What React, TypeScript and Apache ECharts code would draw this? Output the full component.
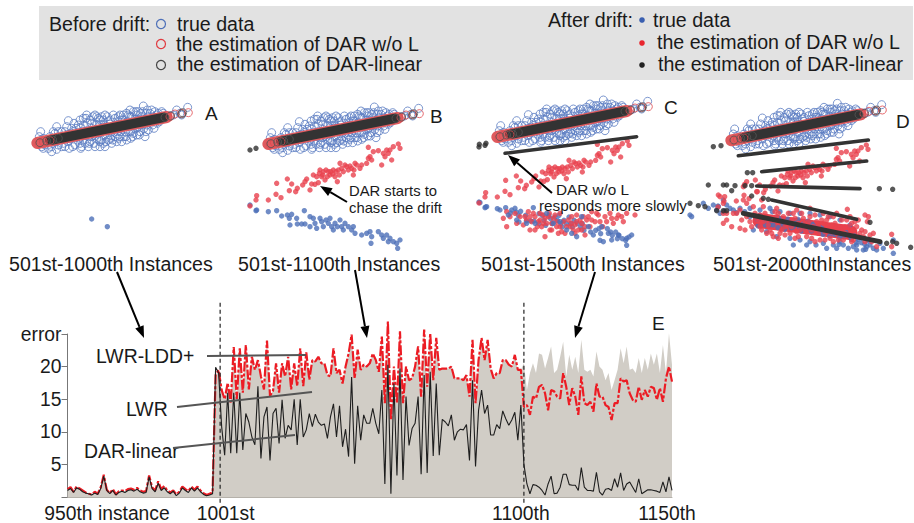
import React, { useEffect, useRef } from "react";
import * as echarts from "echarts";

type P = number[][];
const FONT = "'Liberation Sans', Arial, sans-serif";
const BLUE = "#4c6fb8", RED = "#e9414d", DARK = "#2e2e2e";

// --- scatter panels: values ---
const cloudTrue: P = [[122,395],[118,410],[125,440],[140,420],[155,455],[145,445],[170,448],[185,440],[208,445],[205,362],[195,395],[215,385],[225,435],[235,375],[240,360],[250,420],[258,355],[262,370],[270,425],[275,385],[285,345],[290,375],[300,440],[305,420],[310,360],[315,405],[322,350],[330,372],[338,420],[345,355],[352,395],[360,345],[365,375],[372,410],[380,340],[385,365],[392,415],[400,335],[405,360],[412,345],[420,395],[430,318],[435,410],[440,340],[448,360],[455,330],[462,385],[470,345],[478,365],[485,335],[400,400],[415,380],[360,410],[330,405],[290,415],[255,395],[228,405],[210,415],[180,420],[165,400],[150,410],[135,435],[270,360],[300,360],[320,380],[345,410],[375,395],[395,350],[425,350],[445,390],[460,350],[475,340],[250,375],[280,405],[240,430],[310,430],[350,425],[380,420],[410,405],[430,370],[510,347],[530,330],[545,345],[563,322],[520,345],[540,340],
  [130,415],[160,430],[175,395],[190,430],[200,380],[218,440],[222,370],[232,420],[245,440],[248,395],[265,440],[268,395],[278,350],[282,430],[295,355],[298,420],[305,350],[318,425],[325,365],[335,395],[340,345],[348,375],[355,415],[362,360],[370,345],[378,410],[388,350],[390,330],[398,410],[408,335],[418,405],[422,340],[428,335],[438,395],[442,330],[450,340],[458,375],[465,335],[472,370],[482,350],[490,340],[215,400],[235,400],[265,410],[295,390],[325,420],[355,350],[385,395],[410,385],[440,375],[260,345],[290,350],[315,345],[335,430],[365,425],[195,440],[155,440],[175,435],[205,425],[228,385],[242,445],[285,440],[315,440],
  [170,380],[185,395],[220,395],[242,385],[255,430],[275,410],[292,400],[312,375],[328,385],[342,385],[358,385],[368,360],[382,380],[395,370],[405,385],[418,360],[432,385],[452,370],[468,360],[488,355],[205,405],[190,410],[240,415],[268,430],[300,425],[332,415],[362,395],[392,395],[422,375],[250,355],[275,370],[300,375],[330,360],[355,365],[385,345],[415,335],[445,350],[160,395],[145,425],[130,445]];
const cloudRedEnds: P = [[118,430],[130,425],[150,422],[510,350],[525,342],[545,340],[565,338]];
const cloudDarkEnds: P = [[120,428],[140,423],[158,420],[175,415],[495,352],[512,348],[545,342],[548,338]];
const cloudRedBand: P = [[112,429],[500,351]];
const cloudDarkBand: P = [[150,421],[492,352]];
const panelAFirst: P = [[275,657],[322,680]];

const driftRed: P = [[770,587],[768,600],[750,618],[805,600],[830,550],[828,583],[843,593],[862,537],[875,552],[868,572],[887,575],[892,565],[908,555],[915,545],[920,537],[930,570],[935,552],[945,553],[940,525],[955,548],[960,510],[965,530],[975,540],[970,515],[985,515],[990,525],[1000,510],[1005,530],[1012,545],[1015,510],[1020,490],[1030,515],[1035,495],[1045,510],[1050,498],[1060,525],[1065,490],[1062,510],[1080,505],[1085,495],[1100,490],[1105,442],[1115,480],[1110,470],[1135,452],[1150,460],[1145,495],[1165,460],[1175,480],[1180,440],[1195,432],[1200,445],[1170,450],[1155,470],
  [950,530],[958,520],[968,525],[978,510],[982,530],[992,515],[998,522],[1008,515],[1018,525],[1025,505],[1040,500],[1055,505],[1070,495],[1105,475],[1120,455],[1160,450]];
const driftTrue: P = [[770,630],[768,632],[805,635],[830,632],[845,648],[862,645],[868,655],[875,643],[870,675],[890,655],[892,672],[913,632],[905,672],[915,672],[930,650],[930,680],[940,655],[945,670],[950,685],[960,655],[965,665],[970,680],[978,660],[985,670],[990,655],[995,680],[1000,690],[1005,670],[1012,680],[1020,660],[1025,680],[1030,690],[1035,670],[1045,680],[1055,690],[1060,680],[1065,700],[1085,705],[1100,700],[1110,695],[1115,710],[1135,695],[1145,705],[1150,715],[1160,705],[1170,715],[1180,725],[1190,730],[1200,720],[1193,745],[1165,725],[1113,730],[750,615]];
const driftDark: P = [[750,450],[768,445]];

const panelCRedLower: P = [[140,635],[140,680],[165,640],[180,650],[190,675],[205,635],[215,665],[225,650],[232,680],[240,660],[250,645],[260,670],[255,710],[270,690],[280,655],[290,680],[300,640],[305,695],[315,700],[325,660],[335,650],[345,675],[355,690],[365,670],[375,680],[385,650],[395,660],[410,640],[420,665],[435,650],[450,640],[460,670],[470,655],[485,650],[500,640],[525,645],[375,705],[395,635],[330,680],[345,700],[245,680],[265,650],[275,670],[225,690],[290,665],[240,640],[365,690],[360,660],[350,645],[210,690],
  [150,650],[170,670],[195,650],[200,660],[220,640],[235,665],[250,670],[255,655],[268,640],[275,690],[285,645],[295,700],[310,665],[320,680],[335,670],[340,690],[350,665],[370,650],[380,660],[390,680],[405,665],[415,645],[428,680],[440,665],[455,655],[475,645],[490,665],[130,655],[210,650],[300,680]];
const panelCTrue: P = [[145,645],[155,630],[170,660],[200,670],[225,670],[260,640],[280,670],[300,665],[320,690],[335,700],[350,710],[365,650],[385,680],[400,705],[425,680],[445,700],[455,720],[475,705],[500,715],[515,705],[430,725],[165,625],[120,630],[80,620],[60,608]];
const panelCDarkBand: P = [[135,460],[530,410]];
const panelCDarkDots: P = [[58,433],[78,430]];

const panelDBands: P[] = [
  [[835,467],[1225,420]],
  [[905,515],[1220,483]],
  [[890,558],[1200,566]],
  [[935,600],[1190,658]],
];
const panelDLowBand: P = [[850,640],[1260,725]];
const panelDDarkDots: P = [[862,518],[878,518],[745,555],[790,555],[800,555],[825,557],[855,557],[875,557],[1258,566],[1298,568],[875,588],[910,595],[925,598],[815,572],[1230,667],[790,632],[800,632],[770,632],[1280,730],[1310,730],[1352,742],[1298,725],[760,440],[783,437],[715,617],[735,620],[690,610]];
const panelDRedBand: P = [[900,662],[1170,698]];
const panelDRed: P = [[860,650],[875,680],[885,640],[895,665],[905,690],[915,640],[925,675],[935,700],[945,635],[955,665],[965,690],[975,705],[985,640],[995,680],[1005,655],[1015,710],[1025,640],[1035,690],[1045,665],[1055,715],[1065,645],[1075,700],[1085,660],[1095,720],[1105,650],[1115,695],[1125,670],[1135,720],[1145,660],[1155,700],[1165,680],[1175,725],[1185,665],[1195,710],[1205,690],[1215,725],[1225,650],[1162,628],[1215,645],[1235,725],[1295,703],[1295,740],[1250,740],[910,620],[950,625],[1010,630],[1050,625],[1090,640],[1130,640],[1170,650],[1100,690],[1060,680],[1020,690],[980,670],[940,660],[900,645],[780,590],[790,610],[800,660],[790,670],[815,680],[830,640],[840,685],[850,560],[860,545],[850,600],[890,575],[905,600],[880,620],[860,610],[840,630],[820,640],[800,640],[775,585],[790,640],
  [870,665],[890,655],[910,665],[920,655],[930,690],[950,650],[960,700],[970,650],[990,700],[1000,640],[1010,695],[1030,655],[1040,710],[1050,650],[1070,665],[1080,720],[1090,670],[1100,660],[1110,715],[1120,650],[1130,700],[1140,680],[1150,720],[1160,660],[1170,700],[1180,690],[1190,680],[1200,700],[1210,710],[900,680],[920,700],[940,710],[955,640],[975,680],[995,660],[1015,670],[1035,670],[1055,690],[1075,680],[1095,695],[1115,675],[1135,690],[1155,680],[1175,670],[1195,660],[1215,695],[1230,705],[1180,720],[1120,725],[1065,725],[1005,715],[955,715],[845,660],[855,690],[1240,700],[1222,665]];
const panelDTrue: P = [[690,645],[695,650],[760,615],[775,620],[790,600],[800,615],[810,625],[820,630],[840,625],[870,625],[900,630],[930,625],[960,635],[990,640],[1020,640],[1050,640],[1080,645],[1110,650],[1140,660],[1170,675],[880,690],[920,695],[950,710],[990,715],[1020,720],[1050,725],[1068,735],[1090,730],[1120,735],[1150,735],[1165,745],[1190,735],[1210,750],[1240,745],[1250,750],[1300,720],[1300,760],[1080,690],[1150,710],[1000,680],
  [780,640],[770,630],[730,610],[745,625],[1000,735],[1040,735],[1100,745],[1130,745],[1190,750],[1230,735],[1260,730],[1270,745],[1220,740],[1140,725],[1180,740]];

// --- error chart, one value per instance from the 950th ---
const lddBefore = [1.2,1.5,0.8,1.6,1.3,1,0.7,0.5,0.4,0.8,0.5,1.5,3.4,1.1,0.6,1.2,0.4,0.9,1,0.9,1.2,1.3,1.1,1.4,1,0.8,0.9,3.3,1.5,1,2.4,1.2,1.7,1,0.7,1,0.4,0.8,1.6,1.2,0.9,1.6,1.1,1.6,1,0.6,0.3,0.5,0.7];
const lddDriftA = [18.7,19.5,16.4,15,17.5,14.5,23,15,22.8,16,23.3,16.5,21.5,19.5,21,18.5,16.5,24,15.5,16.3,20.5,16,20.5,18.5,21.5,16.5,20.5,17,22.8,17,22.2,18,21,20.8,21.5,20.5,20.5,18.7,18.5,22.8,19];
const lddDriftB = [19.5,17.4,20,22,24.9,18.2,22.6,19.5,20.3,20,20.5,22,21,19.2,24.6,14.4,26.9,11.8,20,14.4,25.4,14.4,20,17.9,18.2,20,23.1,15.4,25.7,16.9,25.1,17.9,24.4,19.5,19.7,19.7,19.7,20,18.2,18.2,18.2,17.9,18.7,15.4,24.1,14.4,21,24.4,21,24.1,19.7,18.2,19,19,21,21,20.3,20,21.8,19.5,19.5,13.8];
const lddAfter = [14.1,12.6,15.4,15.1,16.9,17.2,15.9,13.3,16.4,16.2,15.4,15.1,19,16.9,14.1,16.7,15.4,12.6,18.5,14.4,14.1,14.6,13.1,17.4,15.4,15.4,14.1,13.8,11.8,14.4,14.4,18.2,17.7,17.9,15.9,14.9,14.6,16.9,14.9,16.4,15.4,16.9,16.7,14.9,16.7,14.6,18.2,20,17.7];
const lwrAfter = [16.4,19,20.5,19,22,21.8,19.7,21.3,23.1,19,19.5,21.5,23.8,18.5,21.8,19.5,21.5,19,24.1,19.5,19.2,19.5,18.5,22.3,20,19.5,17.9,19,16.4,17.9,19.5,22.8,20.5,23.1,19.5,19.7,19,21.3,19,21.3,19.5,22,20.3,22,19,23.3,19,25.1,20.3];
const darBefore = [1,1.3,0.7,1.4,1.2,0.8,0.6,0.5,0.3,0.6,0.4,1.3,3.2,1,0.5,1,0.3,0.7,0.9,0.7,1,1.1,0.9,1.2,0.8,0.6,0.7,3.1,1.3,0.8,2.1,1,1.4,0.8,0.5,0.9,0.2,0.6,1.4,1,0.7,1.4,0.9,1.4,0.8,0.4,0.2,0.3,0.5];
const darDriftA = [19.9,19,10.8,6.4,16,6.7,16,6.7,16,7.2,12.8,11.5,9.2,8,17,5.9,12.3,13.8,5.6,12.8,13.6,8.2,14.9,9,11,10.3,15,8,15,9.2,10.3,12.8,10.8,12.7,11.5,11,11.2,9,12.3,14.3,9.2];
const darDriftB = [14,7.7,10.4,6.2,18.4,5.1,14,8.7,12.6,11.3,11.3,13.6,11.3,9.7,16.4,2,20.3,0.5,17.4,3.3,19.7,2.6,15.4,7.9,10.5,11.3,15.4,3.5,18.7,3.7,19.2,6.3,17.4,6.4,11.9,11.5,10.9,12.6,8.7,10,10.4,10.3,11.1,5.6,17.9,4.7,13.3,16.4,12.8,14.1,9.5,9.5,11.1,10.5,13.2,12,11,11.8,13,8.7,14.1,5];
const darAfter = [2,0.5,1.9,1.8,1.5,1,0.3,2,3.2,0.5,0.6,1.5,3.5,3.5,1.9,1.8,1.8,1,4.5,1.5,1,1,0.9,3.8,0.8,0.3,1.2,1.3,1,2.8,1.5,3.7,1,2,2.3,1.5,0.7,2.8,0.5,0.8,1.1,1.1,1,0.9,0.7,2.3,0.8,3.1,1];

const lddValues = [...lddBefore, ...lddDriftA, ...lddDriftB, ...lddAfter];
const lwrValues = [...lddBefore, ...lddDriftA, ...lddDriftB.slice(0, -1), 20.5, ...lwrAfter];
const darValues = [...darBefore, ...darDriftA, ...darDriftB, ...darAfter];
const firstInstance = 950;
const driftMarks = [1000.5, 1101];
const xTicks = [950, 1001, 1100, 1150];
const xTickText: Record<number, string> = { 950: "{a|950th instance}", 1001: "{b|1001st}", 1100: "{c|1100th}", 1150: "{d|1150th}" };
const yTickText: Record<number, string> = { 5: "5", 10: "10", 15: "15", 20: "20", 25: "error" };

const panelTitles = [["A", 205, 113], ["B", 430, 116], ["C", 664, 107], ["D", 896, 121], ["E", 652, 323]] as [string, number, number][];
const rangeLabels = [["501st-1000th Instances", 9], ["501st-1100th Instances", 238], ["501st-1500th Instances", 481], ["501st-2000thInstances", 713]] as [string, number][];

function txt(text: string, x: number, y: number, size = 19.6) {
  return { type: "text", z: 20, x, y, style: { text, fill: "#1a1a1a", font: `${size}px ${FONT}`, textVerticalAlign: "middle", verticalAlign: "middle" } };
}
function ring(x: number, y: number, stroke: string) {
  return { type: "circle", z: 20, shape: { cx: x, cy: y, r: 4.5 }, style: { fill: "none", stroke, lineWidth: 1.2 } };
}
function dot(x: number, y: number, fill: string) {
  return { type: "circle", z: 20, shape: { cx: x, cy: y, r: 2.8 }, style: { fill } };
}
function leader(x1: number, y1: number, x2: number, y2: number) {
  return { type: "line", z: 20, shape: { x1, y1, x2, y2 }, style: { stroke: "#555", lineWidth: 2 } };
}
function arrow(x1: number, y1: number, x2: number, y2: number) {
  const a = Math.atan2(y2 - y1, x2 - x1), L = 12, W = 4.5;
  const bx = x2 - L * Math.cos(a), by = y2 - L * Math.sin(a);
  return [
    { type: "line", z: 20, shape: { x1, y1, x2: bx, y2: by }, style: { stroke: "#000", lineWidth: 2 } },
    { type: "polygon", z: 20, shape: { points: [[x2, y2], [bx - W * Math.sin(a), by + W * Math.cos(a)], [bx + W * Math.sin(a), by - W * Math.cos(a)]] }, style: { fill: "#000" } },
  ];
}

export default function App() {
  const ref = useRef<HTMLDivElement>(null);
  useEffect(() => {
    const chart = echarts.init(ref.current!, undefined, { renderer: "svg" });
    const grids: any[] = [], xAxes: any[] = [], yAxes: any[] = [];
    const addPanel = (left: number, top: number, w: number, xMin: number, yMin: number) => {
      grids.push({ left, top, width: w, height: 270 });
      xAxes.push({ type: "value", show: false, min: xMin, max: xMin + w * 3, gridIndex: grids.length - 1 });
      yAxes.push({ type: "value", show: false, inverse: true, min: yMin, max: yMin + 810, gridIndex: grids.length - 1 });
      return grids.length - 1;
    };
    const cloudA = addPanel(0, 0, 220, 0, 0);
    const cloudB = addPanel(231, 1, 220, 0, 0);
    const cloudC = addPanel(460, 0, 220, 0, 18);
    const cloudD = addPanel(694, 0, 220, 0, 8);
    const driftB = addPanel(0, 0, 460, 0, 0);
    const driftC = addPanel(229, 0, 460, 0, 9);
    const driftD = addPanel(468, 0, 446, 0, -3);
    const late = addPanel(460, 0, 454, 0, 0);

    const errIdx = grids.length;
    const richTick = (padding: number[]) => ({ fontFamily: FONT, fontSize: 19.3, color: "#1a1a1a", padding });
    grids.push({ left: 67.5, top: 334, width: 604.5, height: 163 });
    xAxes.push({
      type: "value", gridIndex: errIdx, min: 950, max: 1150, splitLine: { show: false },
      axisLine: { show: true, lineStyle: { color: "#b5b1aa", width: 1 } }, axisTick: { show: false },
      axisLabel: {
        customValues: xTicks, margin: 7, hideOverlap: false, color: "#1a1a1a", fontFamily: FONT, fontSize: 19.3,
        formatter: (v: number) => xTickText[v] ?? "",
        rich: { a: richTick([0, 0, 0, 79]), b: richTick([0, 0, 0, 8]), c: richTick([0, 0, 0, 0]), d: richTick([0, 10, 0, 0]) },
      },
    });
    yAxes.push({
      type: "value", gridIndex: errIdx, min: 0, max: 25, interval: 5, splitLine: { show: false },
      axisLine: { show: true, lineStyle: { color: "#777", width: 1 } },
      axisTick: { show: true, inside: false, length: 6, lineStyle: { color: "#777" } },
      axisLabel: { margin: 6, color: "#1a1a1a", fontFamily: FONT, fontSize: 19.3, formatter: (v: number) => yTickText[v] ?? "" },
    });

    const scatter = (data: P, g: number, style: any, size: number, z = 3) => ({
      type: "scatter", data, xAxisIndex: g, yAxisIndex: g, symbolSize: size, itemStyle: style, z, silent: true, clip: false,
    });
    const rings = (data: P, g: number, c: string, z = 3) => scatter(data, g, { color: "rgba(0,0,0,0)", borderColor: c, borderWidth: 1 }, 8, z);
    const dots = (data: P, g: number, c: string, z = 3) => scatter(data, g, { color: c }, 5.4, z);
    const band = (data: P, g: number, c: string, w: number, z = 4) => ({
      type: "line", data, xAxisIndex: g, yAxisIndex: g, symbol: "none", silent: true, clip: false, z,
      lineStyle: { color: c, width: w, cap: "round" },
    });

    const series: any[] = [];
    [cloudA, cloudB, cloudC, cloudD].forEach((g) => {
      series.push(rings(cloudTrue, g, "#5a7cc2", 3));
      series.push(band(cloudRedBand, g, "#df5a5e", 12, 4));
      series.push(band(cloudDarkBand, g, "#333333", 9.5, 5));
      series.push(rings(cloudRedEnds, g, "#e0474c", 5));
      series.push(rings(cloudDarkEnds, g, "#555555", 6));
    });
    series.push(dots(panelAFirst, cloudA, BLUE));
    // B
    series.push(dots(driftTrue, driftB, BLUE), dots(driftRed, driftB, RED), dots(driftDark, driftB, DARK));
    // C
    series.push(dots(driftTrue, driftC, BLUE), dots(panelCRedLower, late, RED, 3), dots(panelCTrue, late, BLUE, 3), dots(driftRed, driftC, RED), dots(driftDark, driftC, DARK, 4));
    series.push(band(panelCDarkBand, late, "#333333", 3.5), dots(panelCDarkDots, late, DARK));
    // D
    series.push(dots(driftTrue, driftD, BLUE), dots(panelDTrue, late, BLUE));
    series.push(band(panelDRedBand, late, RED, 15, 3), dots(panelDRed, late, RED, 3), dots(driftRed, driftD, RED, 3));
    panelDBands.forEach((b) => series.push(band(b, late, "#333333", 3.6, 5)));
    series.push(band(panelDLowBand, late, "#333333", 5, 5));
    series.push(dots(panelDDarkDots, late, DARK, 5));

    const pairs = (vals: number[]) => vals.map((v, i) => [firstInstance + i, v]);
    series.push({
      type: "line", name: "LWR", data: pairs(lwrValues), xAxisIndex: errIdx, yAxisIndex: errIdx, symbol: "none", clip: false, z: 2, silent: true,
      lineStyle: { width: 0, color: "#d1cdc6" }, areaStyle: { color: "#d1cdc6", opacity: 1 },
    });
    series.push({
      type: "line", name: "LWR-LDD+", data: pairs(lddValues), xAxisIndex: errIdx, yAxisIndex: errIdx, symbol: "none", clip: false, z: 3, silent: true,
      lineStyle: { width: 2.2, color: "#ec1c24", type: [10, 2, 3, 2] },
    });
    series.push({
      type: "line", name: "DAR-linear", data: pairs(darValues), xAxisIndex: errIdx, yAxisIndex: errIdx, symbol: "none", clip: false, z: 4, silent: true,
      lineStyle: { width: 1.1, color: "#1e1e1e" },
    });
    driftMarks.forEach((x) => series.push({
      type: "line", data: [[x, 29.8], [x, -0.9]], xAxisIndex: errIdx, yAxisIndex: errIdx, symbol: "none", clip: false, z: 5, silent: true,
      lineStyle: { width: 1.2, color: "#222", type: [4, 3] },
    }));

    const graphic: any[] = [
      { type: "rect", z: 0, zlevel: 0, shape: { x: 39, y: 6, width: 874, height: 74 }, style: { fill: "#e2e2e2" } },
      txt("Before drift:", 49, 24), txt("true data", 177, 24), txt("the estimation of DAR w/o L", 176, 44), txt("the estimation of DAR-linear", 177, 64),
      ring(161, 24, "#4c6fb8"), ring(161, 44, "#e0393e"), ring(161, 65, "#444"),
      txt("After drift:", 548, 20), txt("true data", 653, 20), txt("the estimation of DAR w/o L", 657, 42), txt("the estimation of DAR-linear", 658, 64),
      dot(642, 20, "#3a5fb0"), dot(642, 43, "#e8262e"), dot(642, 65, "#222"),
      ...panelTitles.map(([t, x, y]) => txt(t, x, y, 19)),
      ...rangeLabels.map(([t, x]) => txt(t, x, 264)),
      txt("DAR starts to", 349, 191, 14.8), txt("chase the drift", 349, 207.5, 14.8),
      txt("DAR w/o L", 556, 189.5, 15.3), txt("responds more slowly", 539, 205, 15.3),
      txt("LWR-LDD+", 96, 356, 19.4), txt("LWR", 126, 409, 19.4), txt("DAR-linear", 84, 451, 19.4),
      leader(207, 356, 306, 355), leader(177, 407, 312, 392), leader(173, 448, 295, 435),
      ...arrow(117, 272, 144, 338), ...arrow(355, 270, 367, 338), ...arrow(595, 272, 575, 338),
      ...arrow(347, 202, 320, 186), ...arrow(552, 193, 508, 155),
    ];

    chart.setOption({ animation: false, backgroundColor: "#fff", grid: grids, xAxis: xAxes, yAxis: yAxes, series, graphic });
    return () => chart.dispose();
  }, []);
  return <div ref={ref} style={{ position: "fixed", left: 0, top: 0, width: 914, height: 523 }} />;
}
